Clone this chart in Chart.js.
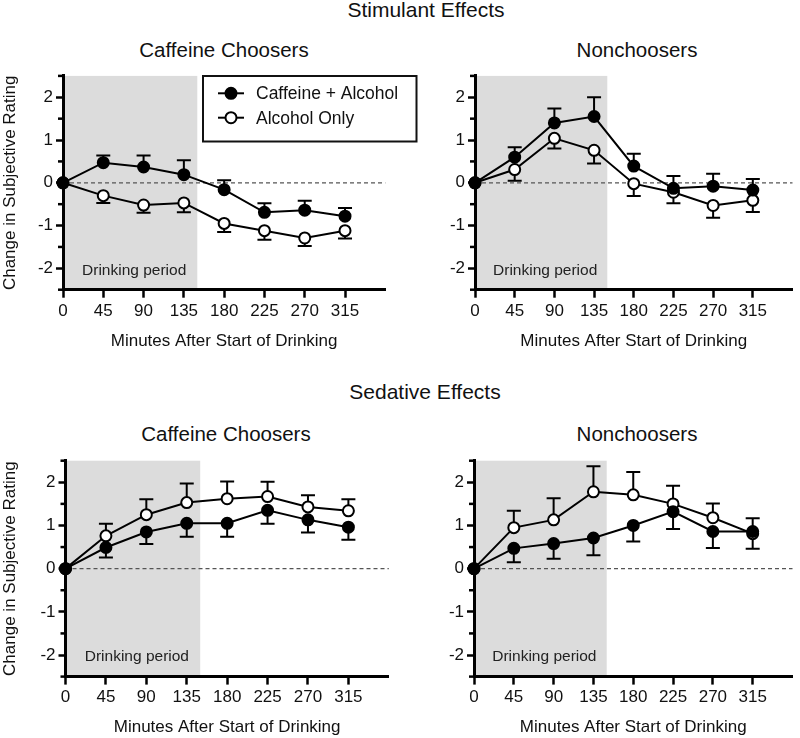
<!DOCTYPE html>
<html><head><meta charset="utf-8">
<script src="https://cdn.jsdelivr.net/npm/chart.js@4.4.1/dist/chart.umd.min.js"></script>
<style>
body{margin:0;background:#fff;width:800px;height:738px;position:relative;overflow:hidden;font-family:"Liberation Sans",Arial,sans-serif;color:#111}
.t{position:absolute;width:400px;text-align:center;white-space:nowrap}
canvas{position:absolute}
</style></head><body>
<div class="t" style="left:226px;top:-2px;font-size:21px;line-height:24px">Stimulant Effects</div>
<div class="t" style="left:24px;top:38px;font-size:20.5px;line-height:24px">Caffeine Choosers</div>
<div class="t" style="left:437px;top:38px;font-size:20.5px;line-height:24px">Nonchoosers</div>
<div class="t" style="left:225px;top:380px;font-size:21px;line-height:24px">Sedative Effects</div>
<div class="t" style="left:26px;top:422px;font-size:20.5px;line-height:24px">Caffeine Choosers</div>
<div class="t" style="left:437px;top:422px;font-size:20.5px;line-height:24px">Nonchoosers</div>
<canvas id="c0" width="420" height="300" style="left:0;top:60px"></canvas>
<canvas id="c1" width="380" height="300" style="left:420px;top:60px"></canvas>
<canvas id="c2" width="420" height="293" style="left:0;top:445px"></canvas>
<canvas id="c3" width="380" height="293" style="left:420px;top:445px"></canvas>
<script>
// ---- data ----
const minutes = [0, 45, 90, 135, 180, 225, 270, 315];
const seriesLabels = ['Caffeine + Alcohol', 'Alcohol Only'];
const yTickLabels = [-2, -1, 0, 1, 2];
const drinkingPeriodEnd = 150;
const drinkingLabel = 'Drinking period';
const xAxisTitle = 'Minutes After Start of Drinking';
const yAxisTitle = 'Change in Subjective Rating';

// Stimulant effects – Caffeine Choosers
const stimChoosersCaf    = [0, 0.47, 0.37, 0.19, -0.16, -0.69, -0.64, -0.78];
const stimChoosersCafSem = [0, 0.17, 0.27, 0.34, 0.22, 0.21, 0.22, 0.19];
const stimChoosersAlc    = [0, -0.30, -0.52, -0.47, -0.95, -1.12, -1.29, -1.12];
const stimChoosersAlcSem = [0, 0.17, 0.18, 0.22, 0.20, 0.21, 0.19, 0.18];
// Stimulant effects – Nonchoosers
const stimNonCaf    = [0, 0.60, 1.40, 1.55, 0.39, -0.13, -0.08, -0.17];
const stimNonCafSem = [0, 0.23, 0.34, 0.45, 0.29, 0.29, 0.29, 0.26];
const stimNonAlc    = [0, 0.31, 1.04, 0.76, -0.02, -0.22, -0.53, -0.41];
const stimNonAlcSem = [0, 0.26, 0.24, 0.31, 0.29, 0.26, 0.29, 0.27];
// Sedative effects – Caffeine Choosers
const sedChoosersCaf    = [0, 0.49, 0.85, 1.05, 1.05, 1.35, 1.13, 0.96];
const sedChoosersCafSem = [0, 0.23, 0.28, 0.31, 0.31, 0.31, 0.29, 0.29];
const sedChoosersAlc    = [0, 0.76, 1.25, 1.53, 1.62, 1.67, 1.43, 1.34];
const sedChoosersAlcSem = [0, 0.28, 0.36, 0.44, 0.40, 0.34, 0.27, 0.27];
// Sedative effects – Nonchoosers
const sedNonCaf    = [0, 0.47, 0.58, 0.71, 1.00, 1.32, 0.86, 0.86];
const sedNonCafSem = [0, 0.32, 0.35, 0.40, 0.37, 0.40, 0.38, 0.40];
const sedNonAlc    = [0, 0.95, 1.13, 1.78, 1.71, 1.50, 1.18, 0.81];
const sedNonAlcSem = [0, 0.39, 0.50, 0.59, 0.53, 0.42, 0.33, 0.36];

// ---- drawing ----
const FONT = '"Liberation Sans", Arial, sans-serif';
const INK = '#111';

function toPoints(vals) { return vals.map((v, i) => ({ x: minutes[i], y: v })); }

const decoPlugin = {
  id: 'deco',
  beforeDraw(chart) {
    const { ctx, chartArea: a, scales: { x, y } } = chart;
    const x0 = x.getPixelForValue(0), x1 = x.getPixelForValue(drinkingPeriodEnd);
    ctx.save();
    ctx.fillStyle = '#dcdcdc';
    ctx.fillRect(x0, a.top, x1 - x0, a.bottom - a.top);
    ctx.fillStyle = '#222';
    ctx.font = '15.5px ' + FONT;
    ctx.textAlign = 'center';
    ctx.textBaseline = 'middle';
    ctx.fillText(drinkingLabel, (x0 + x1) / 2 + 4, y.getPixelForValue(-2) + 2);
    const yz = y.getPixelForValue(0);
    ctx.strokeStyle = '#555';
    ctx.lineWidth = 1.2;
    ctx.setLineDash([4, 3]);
    ctx.beginPath();
    ctx.moveTo(x0, yz);
    ctx.lineTo(a.right, yz);
    ctx.stroke();
    ctx.restore();
  },
  afterDraw(chart) {
    // shorter minor ticks on the y axis at the half-unit tick values
    const { ctx, chartArea: a, scales: { y } } = chart;
    ctx.save();
    ctx.strokeStyle = '#000';
    ctx.lineWidth = 2.5;
    y.ticks.forEach(t => {
      if (yTickLabels.includes(t.value)) return;
      const py = y.getPixelForValue(t.value);
      ctx.beginPath(); ctx.moveTo(a.left, py); ctx.lineTo(a.left - 5, py); ctx.stroke();
    });
    ctx.restore();
  },
  beforeDatasetsDraw(chart) {
    const { ctx, scales: { x, y } } = chart;
    ctx.save();
    ctx.strokeStyle = '#000';
    ctx.lineWidth = 2;
    chart.data.datasets.forEach(ds => {
      ds.data.forEach((p, i) => {
        const e = ds.sem[i];
        if (!e) return;
        const px = x.getPixelForValue(p.x);
        const py = y.getPixelForValue(p.y);
        const pe = y.getPixelForValue(p.y + ds.errDir * e);
        ctx.beginPath();
        ctx.moveTo(px, py); ctx.lineTo(px, pe);
        ctx.moveTo(px - 7, pe); ctx.lineTo(px + 7, pe);
        ctx.stroke();
      });
    });
    ctx.restore();
  }
};

const legendPlugin = {
  id: 'boxLegend',
  afterDraw(chart) {
    const { ctx } = chart;
    ctx.save();
    ctx.strokeStyle = '#111';
    ctx.lineWidth = 2;
    ctx.strokeRect(203, 16, 213.5, 65.5);
    chart.data.datasets.forEach((ds, i) => {
      const cy = 33.3 + i * 24.4;
      ctx.strokeStyle = '#000';
      ctx.lineWidth = 2;
      ctx.beginPath(); ctx.moveTo(218, cy); ctx.lineTo(244, cy); ctx.stroke();
      ctx.beginPath(); ctx.arc(231, cy, 5.5, 0, Math.PI * 2);
      ctx.fillStyle = ds.pointBackgroundColor; ctx.fill(); ctx.stroke();
      ctx.fillStyle = INK;
      ctx.font = '17.5px ' + FONT;
      ctx.textAlign = 'left'; ctx.textBaseline = 'middle';
      ctx.fillText(ds.label, 256, cy + 1);
    });
    ctx.restore();
  }
};

function makeChart(id, caf, cafSem, alc, alcSem, dirCaf, L) {
  const datasets = [
    { label: seriesLabels[0], data: toPoints(caf), sem: cafSem, errDir: dirCaf,
      borderColor: '#000', borderWidth: 2, pointRadius: 5.5, pointBorderWidth: 2,
      pointBackgroundColor: '#000', pointBorderColor: '#000', tension: 0, clip: false },
    { label: seriesLabels[1], data: toPoints(alc), sem: alcSem, errDir: -dirCaf,
      borderColor: '#000', borderWidth: 2, pointRadius: 5.5, pointBorderWidth: 2,
      pointBackgroundColor: '#fff', pointBorderColor: '#000', tension: 0, clip: false }
  ];
  const plugins = [decoPlugin];
  if (L.legend) plugins.push(legendPlugin);
  return new Chart(document.getElementById(id), {
    type: 'line',
    data: { datasets },
    plugins,
    options: {
      responsive: false, animation: false, devicePixelRatio: 1,
      layout: { padding: { left: 0, top: L.padTop, right: L.padRight, bottom: 0 } },
      plugins: { legend: { display: false }, tooltip: { enabled: false } },
      scales: {
        x: {
          type: 'linear', min: 0, max: 360,
          afterFit(s) { s.height = L.xH; },
          border: { display: true, color: '#000', width: 3 },
          grid: { display: true, drawOnChartArea: false, drawTicks: true, tickLength: 8, tickWidth: 2.5,
                  tickColor: c => (c.tick && minutes.includes(c.tick.value)) ? '#000' : 'rgba(0,0,0,0)' },
          ticks: { stepSize: 45, autoSkip: false, maxRotation: 0, padding: 3, color: INK,
                   font: { size: 17, family: FONT },
                   callback: v => minutes.includes(v) ? String(v) : '' },
          title: { display: true, text: xAxisTitle, color: INK, font: { size: 17, family: FONT, lineHeight: 1.2 },
                   padding: { top: 0, bottom: L.xTitlePad } }
        },
        y: {
          type: 'linear', min: -2.5, max: 2.5,
          afterFit(s) { s.width = L.yW; },
          border: { display: true, color: '#000', width: 3 },
          grid: { display: true, drawOnChartArea: false, drawTicks: true, tickLength: 7, tickWidth: 2.5,
                  tickColor: c => (c.tick && yTickLabels.includes(c.tick.value)) ? '#000' : 'rgba(0,0,0,0)' },
          ticks: { stepSize: 0.5, autoSkip: false, padding: 3, color: INK,
                   font: { size: 17, family: FONT },
                   callback: v => yTickLabels.includes(v) ? String(v) : '' },
          title: { display: L.yTitle, text: yAxisTitle, color: INK, font: { size: 17, family: FONT, lineHeight: 1.2 },
                   padding: { top: 0, bottom: 0 } }
        }
      }
    }
  });
}

makeChart('c0', stimChoosersCaf, stimChoosersCafSem, stimChoosersAlc, stimChoosersAlcSem, 1,
  { padTop: 15.9, padRight: 34.7, xH: 70.3, yW: 63, xTitlePad: 8, yTitle: true, legend: true });
makeChart('c1', stimNonCaf, stimNonCafSem, stimNonAlc, stimNonAlcSem, 1,
  { padTop: 15.9, padRight: 2.6, xH: 70.3, yW: 55, xTitlePad: 8, yTitle: false, legend: false });
makeChart('c2', sedChoosersCaf, sedChoosersCafSem, sedChoosersAlc, sedChoosersAlcSem, -1,
  { padTop: 15.7, padRight: 31.2, xH: 61.4, yW: 65.5, xTitlePad: 0, yTitle: true, legend: false });
makeChart('c3', sedNonCaf, sedNonCafSem, sedNonAlc, sedNonAlcSem, -1,
  { padTop: 15.7, padRight: 1.1, xH: 61.4, yW: 54, xTitlePad: 0, yTitle: false, legend: false });
</script>
</body></html>
